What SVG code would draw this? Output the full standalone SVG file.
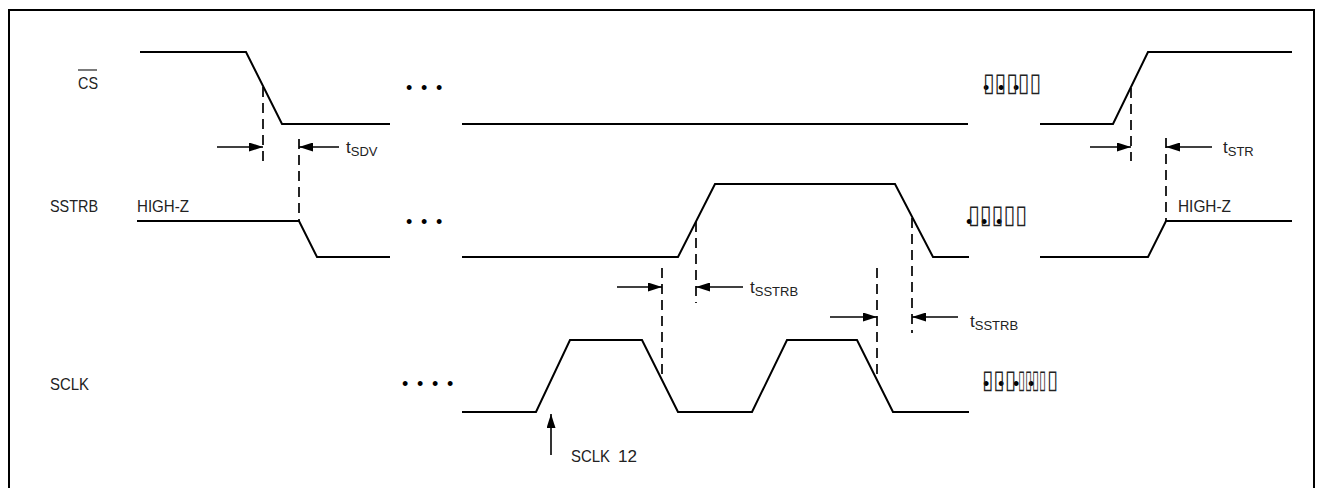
<svg xmlns="http://www.w3.org/2000/svg" width="1322" height="488" viewBox="0 0 1322 488">
<style>
.sig{fill:none;stroke:#000;stroke-width:2}
.dash{fill:none;stroke:#000;stroke-width:1.7;stroke-dasharray:10 6}
.arr{fill:none;stroke:#000;stroke-width:1.6;marker-end:url(#ah)}
.lbl{font-family:"Liberation Sans Narrow","Liberation Sans",Arial,sans-serif;font-size:17px;fill:#222}
.sub{font-size:13px}
.dots{font-family:"Liberation Sans",Arial,sans-serif;font-size:18px;letter-spacing:8.7px;fill:#000}
.tofu{font-family:"DejaVu Sans",sans-serif;font-size:26px;fill:#222}
</style>
<defs>
<marker id="ah" markerUnits="userSpaceOnUse" markerWidth="15" markerHeight="9" refX="14" refY="4.5" orient="auto">
<path d="M0,0 L14,4.5 L0,9 z" fill="#000"/>
</marker>
</defs>
<rect x="9" y="10" width="1305" height="490" fill="#fff" stroke="#000" stroke-width="2"/>

<g id="labels">
<text class="lbl" x="78" y="89" textLength="20" lengthAdjust="spacingAndGlyphs">CS</text>
<line x1="78" y1="70" x2="97" y2="70" stroke="#222" stroke-width="1.2"/>
<text class="lbl" x="50" y="212" textLength="48" lengthAdjust="spacingAndGlyphs">SSTRB</text>
<text class="lbl" x="50" y="390" textLength="39" lengthAdjust="spacingAndGlyphs">SCLK</text>
<text class="lbl" x="137" y="212" textLength="52" lengthAdjust="spacingAndGlyphs">HIGH-Z</text>
<text class="lbl" x="1178" y="212" textLength="53" lengthAdjust="spacingAndGlyphs">HIGH-Z</text>
<text class="lbl" x="571" y="462"><tspan textLength="39" lengthAdjust="spacingAndGlyphs">SCLK</tspan><tspan x="618" textLength="19" lengthAdjust="spacingAndGlyphs">12</tspan></text>
</g>

<g id="signal-cs">
<path class="sig" d="M140,52 H246 L282,124 H390 M462,124 H968 M1040,124 H1113 L1148,52 H1292"/>
</g>
<g id="signal-sstrb">
<path class="sig" d="M137,221 H299 L317,257 H390 M462,257 H678 L715,184 H895 L933,257 H969 M1040,257 H1148 L1166,221 H1292"/>
</g>
<g id="signal-sclk">
<path class="sig" d="M462,412 H536 L570,340 H642 L678,412 H752 L787,340 H857 L893,412 H969"/>
</g>

<g id="ellipses">
<text class="dots" x="406" y="94">•••</text>
<text class="dots" x="406" y="228">•••</text>
<text class="dots" x="402" y="390">••••</text>
<text class="dots" x="983" y="94">•••</text>
<text class="dots" x="966" y="228">•••</text>
<text class="dots" x="983" y="390">••••</text>
<text class="tofu" x="983" y="91" textLength="58" lengthAdjust="spacingAndGlyphs">▯▯▯▯▯</text>
<text class="tofu" x="968" y="223" textLength="59" lengthAdjust="spacingAndGlyphs">▯▯▯▯▯</text>
<text class="tofu" y="388"><tspan x="982" textLength="34" lengthAdjust="spacingAndGlyphs">▯▯▯</tspan><tspan x="1018" textLength="28" lengthAdjust="spacingAndGlyphs">▯▯▯▯</tspan><tspan x="1047" textLength="11" lengthAdjust="spacingAndGlyphs">▯</tspan></text>
</g>

<g id="connectors">
<path class="dash" d="M263,87 V166 M299,139 V221 M1131,88 V161 M1166,138 V221 M662,268 V380 M696,222 V303 M877,268 V378 M912,218 V333"/>
<path class="arr" d="M217,147 H263"/>
<path class="arr" d="M339,147 H299"/>
<path class="arr" d="M1090,147 H1131"/>
<path class="arr" d="M1212,147 H1166"/>
<path class="arr" d="M617,287 H662"/>
<path class="arr" d="M743,287 H696"/>
<path class="arr" d="M830,317 H877"/>
<path class="arr" d="M958,317 H912"/>
<path class="arr" d="M551,455 V414"/>
</g>

<g id="timing-labels">
<text class="lbl" x="346" y="153">t<tspan class="sub" dy="3">SDV</tspan></text>
<text class="lbl" x="1223" y="153">t<tspan class="sub" dy="3">STR</tspan></text>
<text class="lbl" x="750" y="293">t<tspan class="sub" dy="3">SSTRB</tspan></text>
<text class="lbl" x="970" y="327">t<tspan class="sub" dy="3">SSTRB</tspan></text>
</g>
</svg>
